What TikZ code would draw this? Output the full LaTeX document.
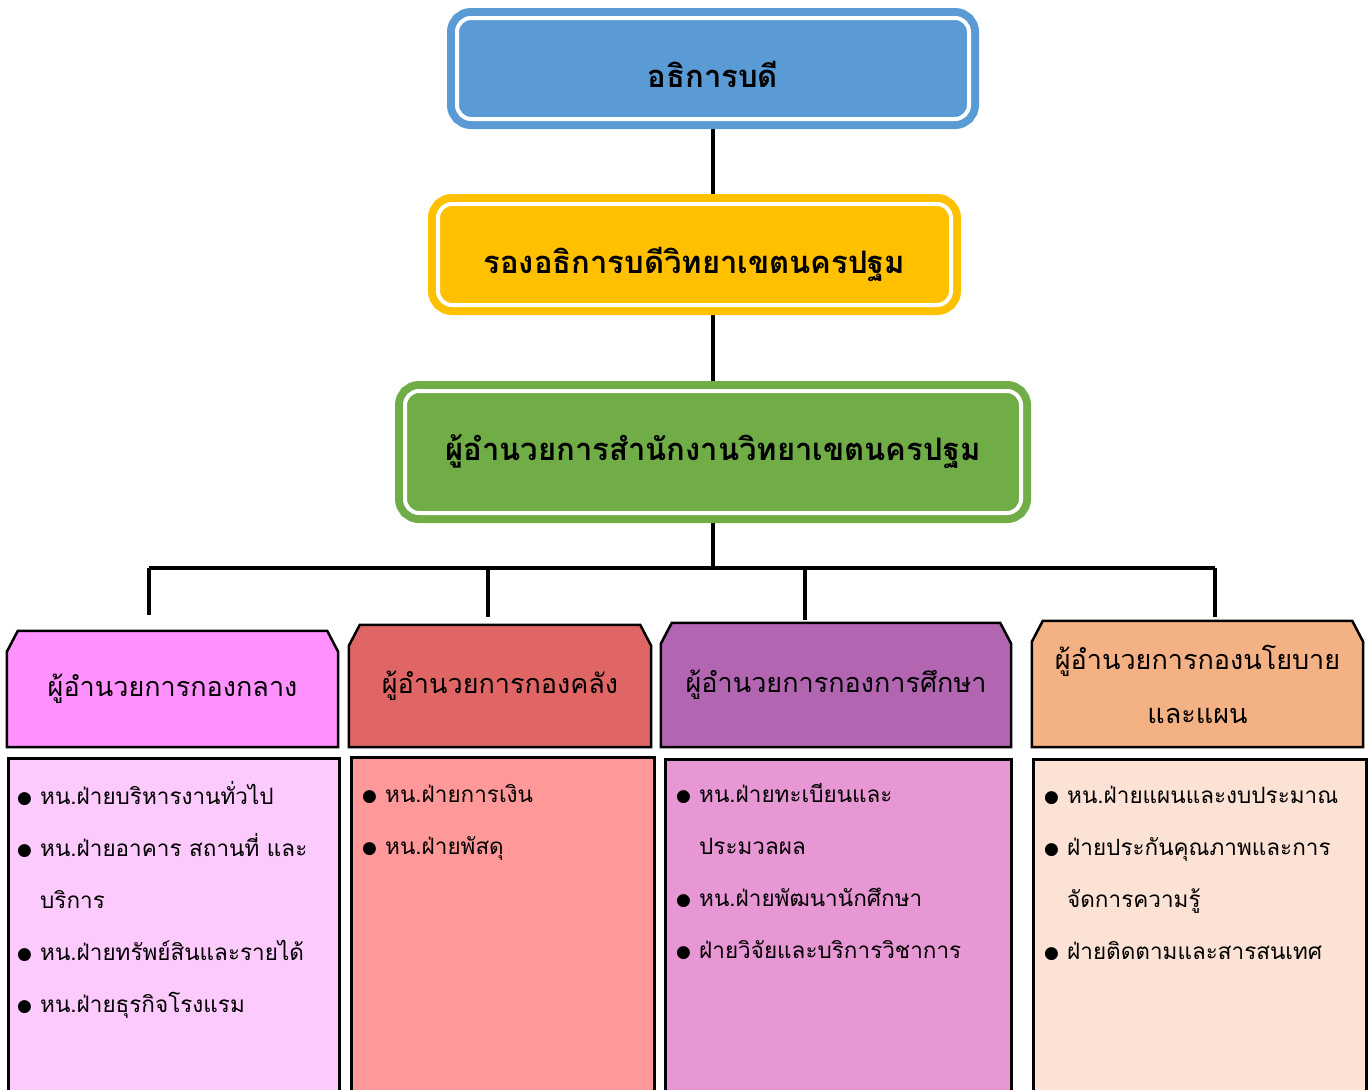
\documentclass[tikz,border=0pt]{standalone}
\usepackage{fontspec}
\setmainfont[Script=Thai]{Loma}
\newfontfamily\symfont{DejaVu Sans}
\usetikzlibrary{backgrounds}
\usepackage{xcolor}
\definecolor{cblue}{HTML}{5B9BD5}
\definecolor{cyellow}{HTML}{FFC000}
\definecolor{cgreen}{HTML}{70AD47}
\definecolor{hpink}{HTML}{FF91FF}
\definecolor{hred}{HTML}{E06666}
\definecolor{hpurple}{HTML}{B266B2}
\definecolor{horange}{HTML}{F4B183}
\definecolor{lpink}{HTML}{FCCAFC}
\definecolor{lred}{HTML}{FF9999}
\definecolor{lpurple}{HTML}{E897D5}
\definecolor{lorange}{HTML}{FBE2D5}
\tikzset{
    topbox/.style={draw=#1,fill=#1,double=white,line width=8pt,
        double distance=4pt,rounded corners=14pt,inner sep=0pt,
        font=\fontsize{31}{36}\selectfont\bfseries},
    hdr/.style={inner sep=0pt,align=center,
        font=\fontsize{27}{54}\selectfont},
    hdrline/.style={draw=black,line width=2.5pt,line join=miter},
    lstbox/.style={draw=black,line width=2.5pt,fill=#1,
        anchor=north west,inner sep=0pt,minimum height=360pt},
    items/.style={anchor=north west,inner sep=0pt,align=left,
        font=\fontsize{22.5}{52}\selectfont},
    conn/.style={line width=3.5pt},
}
\newcommand{\bul}{\makebox[23pt][l]{\raisebox{1pt}{\symfont\fontsize{17}{17}\selectfont ●}}}
\newcommand{\chamfer}[2] {
    \begin{pgfonlayer}{background}
    \draw[hdrline,fill=#2] (#1.south west) -- ([yshift=-21pt]#1.north west)
        -- ([xshift=11pt]#1.north west) -- ([xshift=-11pt]#1.north east)
        -- ([yshift=-21pt]#1.north east) -- (#1.south east) -- cycle;
    \end{pgfonlayer}
}

\begin{document}
\begin{tikzpicture}[x=1pt,y=-1pt]
    \useasboundingbox (0,0) rectangle (1369,1090);
    \node[topbox=cblue,minimum width=512,minimum height=101,
        text height=38pt,text depth=0pt]
        (blue) at (713,68.5) {อธิการบดี};
    \node[topbox=cyellow,minimum width=513,minimum height=101,
        text height=37pt,text depth=0pt]
        (yellow) at (694.5,254.5) {รองอธิการบดีวิทยาเขตนครปฐม};
    \node[topbox=cgreen,minimum width=616,minimum height=122]
        (green) at (713,452) {ผู้อำนวยการสำนักงานวิทยาเขตนครปฐม};

    \node[hdr,minimum width=331,minimum height=116] (h1) at (172.5,689) {ผู้อำนวยการกองกลาง};
    \node[hdr,minimum width=302,minimum height=122] (h2) at (500,686) {ผู้อำนวยการกองคลัง};
    \node[hdr,minimum width=350,minimum height=124] (h3) at (836,685) {ผู้อำนวยการกองการศึกษา};
    \node[hdr,minimum width=331,minimum height=126] (h4) at (1197.5,684) {ผู้อำนวยการกองนโยบาย\\และแผน};
    \chamfer{h1}{hpink}
    \chamfer{h2}{hred}
    \chamfer{h3}{hpurple}
    \chamfer{h4}{horange}

    \coordinate (bar) at (713,568);
    \coordinate (d1) at (149,615);
    \coordinate (d2) at (488,617);
    \coordinate (d3) at (805,620);
    \coordinate (d4) at (1215,617);
    \begin{pgfonlayer}{background}
        \draw[conn] (blue.south) -- (blue.south |- yellow.north);
        \draw[conn] (green.north |- yellow.south) -- (green.north);
        \draw[conn] (green.south) -- (bar);
        \draw[line width=4pt] (d1 |- bar) -- (d4 |- bar);
        \foreach \i in {1,...,4}
            \draw[conn] (d\i |- bar) -- (d\i);
    \end{pgfonlayer}

    \node[lstbox=lpink,minimum width=331] (l1) at (7,757) {};
    \node[lstbox=lred,minimum width=303] (l2) at (350,756) {};
    \node[lstbox=lpurple,minimum width=346] (l3) at (664,758) {};
    \node[lstbox=lorange,minimum width=333] (l4) at (1032,758) {};

    \node[items] (t1) at ([xshift=10pt,yshift=-24pt]l1.north west)
        {\bul หน.ฝ่ายบริหารงานทั่วไป\\
         \bul หน.ฝ่ายอาคาร สถานที่ และ\\
         \hspace*{23pt}บริการ\\
         \bul หน.ฝ่ายทรัพย์สินและรายได้\\
         \bul หน.ฝ่ายธุรกิจโรงแรม};
    \node[items] (t2) at ([xshift=12pt,yshift=-28pt]l2.north west)
        {\bul หน.ฝ่ายการเงิน\\
         \bul หน.ฝ่ายพัสดุ};
    \node[items] (t3) at ([xshift=12pt,yshift=-25pt]l3.north west)
        {\bul หน.ฝ่ายทะเบียนและ\\
         \hspace*{23pt}ประมวลผล\\
         \bul หน.ฝ่ายพัฒนานักศึกษา\\
         \bul ฝ่ายวิจัยและบริการวิชาการ};
    \node[items] (t4) at ([xshift=12pt,yshift=-28pt]l4.north west)
        {\bul หน.ฝ่ายแผนและงบประมาณ\\
         \bul ฝ่ายประกันคุณภาพและการ\\
         \hspace*{23pt}จัดการความรู้\\
         \bul ฝ่ายติดตามและสารสนเทศ};
\end{tikzpicture}
\end{document}
